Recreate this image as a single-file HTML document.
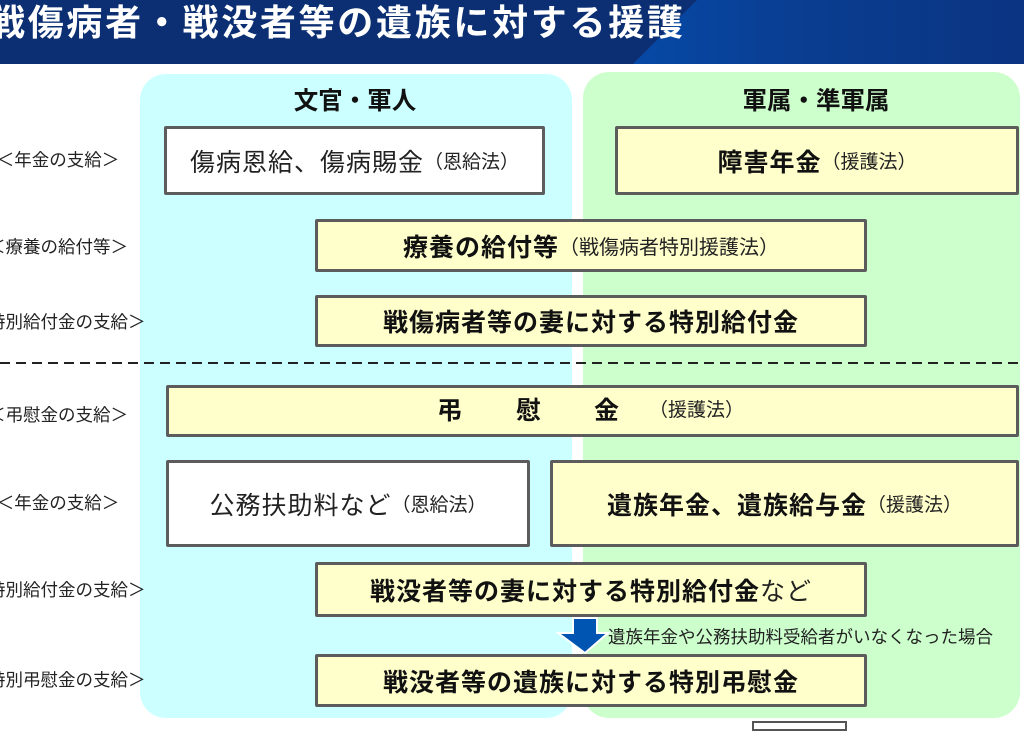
<!DOCTYPE html>
<html lang="ja">
<head>
<meta charset="utf-8">
<style>
  html,body{margin:0;padding:0;}
  body{width:1024px;height:723px;position:relative;overflow:hidden;background:#fff;
       font-family:"Liberation Sans","Noto Sans CJK JP",sans-serif;color:#111;}
  .abs{position:absolute;}
  .panel{position:absolute;border-radius:26px;}
  .box{position:absolute;box-sizing:border-box;border:3px solid #5c5c5c;border-radius:2px;
       display:flex;align-items:center;justify-content:center;white-space:nowrap;}
  .y{background:#ffffcc;}
  .w{background:#ffffff;}
  .m{font-size:25px;letter-spacing:1px;}
  .b{font-weight:bold;}
  .n{font-weight:normal;}
  .p{font-size:19px;font-weight:normal;letter-spacing:0;color:#222;}
  .lab{position:absolute;left:-142px;width:400px;text-align:center;font-size:17.5px;color:#222;
       height:24px;line-height:24px;white-space:nowrap;}
  .colh{position:absolute;font-size:24.5px;font-weight:bold;text-align:center;height:32px;line-height:32px;white-space:nowrap;}
</style>
</head>
<body>
<!-- header -->
<svg class="abs" style="left:0;top:0" width="1024" height="66" viewBox="0 0 1024 66">
  <defs>
    <linearGradient id="hg" x1="0" y1="0" x2="1" y2="0">
      <stop offset="0" stop-color="#0649a6"/>
      <stop offset="0.45" stop-color="#0a3d90"/>
      <stop offset="1" stop-color="#0b3482"/>
    </linearGradient>
  </defs>
  <rect x="0" y="0" width="1024" height="64" fill="#0b2f72"/>
  <polygon points="697,0 1024,0 1024,64 633,64" fill="url(#hg)"/>
</svg>
<div class="abs" style="left:-11px;top:0;height:46px;line-height:46px;font-size:36px;font-weight:bold;color:#fff;letter-spacing:2.7px;white-space:nowrap;">戦傷病者・戦没者等の遺族に対する援護</div>

<!-- panels -->
<div class="panel" style="left:140px;top:74px;width:432px;height:644px;background:#ccffff;"></div>
<div class="panel" style="left:583px;top:72px;width:437px;height:646px;background:#ccffcc;"></div>

<div class="colh" style="left:255px;top:86px;width:200px;">文官・軍人</div>
<div class="colh" style="left:716px;top:86px;width:200px;">軍属・準軍属</div>

<!-- left labels -->
<div class="lab" style="top:148px;">＜年金の支給＞</div>
<div class="lab" style="top:235px;">＜療養の給付等＞</div>
<div class="lab" style="top:310px;">＜特別給付金の支給＞</div>
<div class="lab" style="top:403px;">＜弔慰金の支給＞</div>
<div class="lab" style="top:491px;">＜年金の支給＞</div>
<div class="lab" style="top:578px;">＜特別給付金の支給＞</div>
<div class="lab" style="top:668px;">＜特別弔慰金の支給＞</div>

<!-- dashed separator -->
<svg class="abs" style="left:0;top:358px" width="1024" height="10">
  <line x1="0" y1="5" x2="1024" y2="5" stroke="#222" stroke-width="2" stroke-dasharray="10,6"/>
</svg>

<!-- boxes -->
<div class="box w" style="left:164px;top:126px;width:381px;height:69px;"><span class="m n" style="color:#222">傷病恩給、傷病賜金</span><span class="p">（恩給法）</span></div>
<div class="box y" style="left:615px;top:126px;width:404px;height:69px;"><span class="m b">障害年金</span><span class="p">（援護法）</span></div>

<div class="box y" style="left:315px;top:219px;width:552px;height:53px;"><span class="m b">療養の給付等</span><span class="p" style="font-size:20px">（戦傷病者特別援護法）</span></div>
<div class="box y" style="left:315px;top:295px;width:552px;height:52px;"><span class="m b">戦傷病者等の妻に対する特別給付金</span></div>

<div class="box y" style="left:166px;top:385px;width:853px;height:52px;"></div>
<div class="abs m b" style="left:437px;top:395px;height:32px;line-height:32px;">弔</div>
<div class="abs m b" style="left:516px;top:395px;height:32px;line-height:32px;">慰</div>
<div class="abs m b" style="left:594px;top:395px;height:32px;line-height:32px;">金</div>
<div class="abs p" style="left:649px;top:396px;height:30px;line-height:30px;">（援護法）</div>

<div class="box w" style="left:166px;top:460px;width:364px;height:87px;"><span class="m n" style="color:#222">公務扶助料など</span><span class="p">（恩給法）</span></div>
<div class="box y" style="left:550px;top:460px;width:469px;height:87px;"><span class="m b">遺族年金、遺族給与金</span><span class="p">（援護法）</span></div>

<div class="box y" style="left:315px;top:562px;width:552px;height:55px;"><span class="m b">戦没者等の妻に対する特別給付金</span><span class="m n" style="color:#222">など</span></div>

<!-- arrow -->
<svg class="abs" style="left:554px;top:615px" width="58" height="42" viewBox="0 0 58 42">
  <polygon points="19,3 43,3 43,18 54,18 31,38 4,18 19,18" fill="#0055b3" stroke="#ffffff" stroke-width="2" stroke-linejoin="miter"/>
</svg>
<div class="abs" style="left:608px;top:625px;height:24px;line-height:24px;font-size:17.5px;color:#222;white-space:nowrap;">遺族年金や公務扶助料受給者がいなくなった場合</div>

<div class="box y" style="left:315px;top:654px;width:552px;height:53px;"><span class="m b">戦没者等の遺族に対する特別弔慰金</span></div>

<!-- bottom partial box -->
<div class="abs" style="left:752px;top:721px;width:95px;height:10px;box-sizing:border-box;border:2px solid #555;background:#fff;"></div>
</body>
</html>
